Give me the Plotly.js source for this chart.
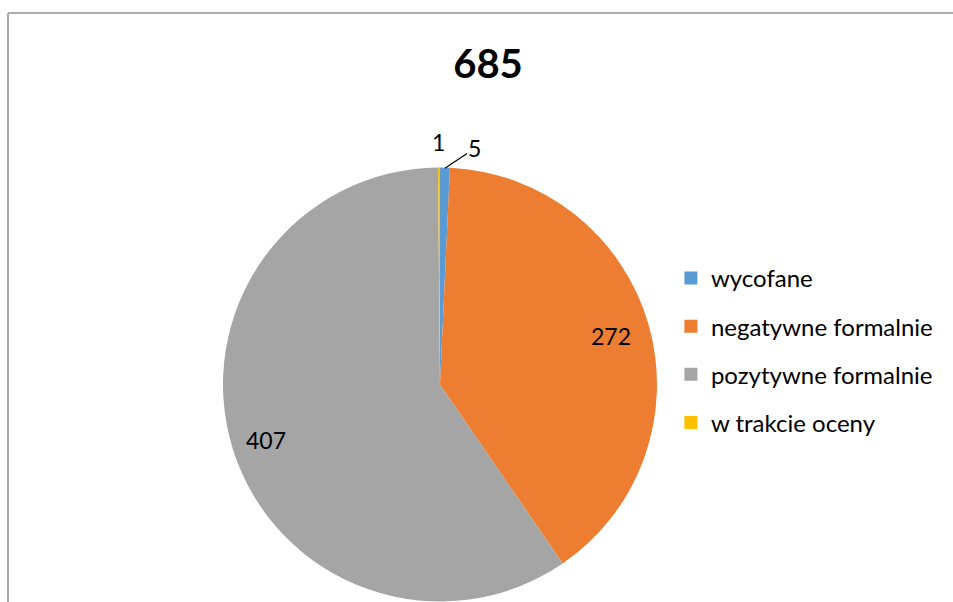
<!DOCTYPE html>
<html>
<head>
<meta charset="utf-8">
<script src="https://cdn.plot.ly/plotly-3.0.1.min.js"></script>
<style>
  html, body { margin: 0; padding: 0; background: #fff; }
  #chart { width: 953px; height: 602px; }
</style>
</head>
<body>
<div id="chart"></div>
<script>
const chartTitle = "685";
const categories = ["wycofane", "negatywne formalnie", "pozytywne formalnie", "w trakcie oceny"];
const values = [5, 272, 407, 1];
const colors = ["#5B9BD5", "#ED7D31", "#A5A5A5", "#FFC000"];

const FONT = "Lato, 'Liberation Sans', sans-serif";
const W = 953, H = 602;
const pieDomain = { x: [0.2340, 0.6894], y: [-0.002, 0.7226] };

// label placement style (radius as a fraction of the pie radius; "offset" labels get a leader line)
const labelStyle = [
  { mode: "leader", ax: 30, ay: -20 },
  { mode: "radial", k: 0.82 },
  { mode: "radial", k: 0.84 },
  { mode: "radial", k: 1.12 }
];

const pie = {
  type: "pie",
  labels: categories,
  values: values,
  sort: false,
  direction: "clockwise",
  rotation: 0,
  marker: { colors: colors, line: { width: 0 } },
  textinfo: "none",
  showlegend: false,
  hoverinfo: "label+value+percent",
  domain: pieDomain
};

// legend entries (one per category, so that the gaps between entries can be set)
const legendTraces = categories.map((c, i) => ({
  type: "scatter",
  x: [null], y: [null],
  mode: "markers",
  name: c,
  legendgroup: "g" + i,
  marker: { symbol: "square", size: 13, color: colors[i], line: { width: 0 } },
  hoverinfo: "skip",
  showlegend: true
}));

// data labels: positioned from the slice angles computed from the values
const total = values.reduce((a, b) => a + b, 0);
const dw = (pieDomain.x[1] - pieDomain.x[0]) * W;
const dh = (pieDomain.y[1] - pieDomain.y[0]) * H;
const rPx = Math.min(dw, dh) / 2;
const cxPx = (pieDomain.x[0] + pieDomain.x[1]) / 2 * W;
const cyPx = H - (pieDomain.y[0] + pieDomain.y[1]) / 2 * H;
let cum = 0;
const annotations = values.map((v, i) => {
  const mid = (cum + v / 2) / total * 2 * Math.PI; // clockwise from 12 o'clock
  cum += v;
  const s = labelStyle[i];
  const base = { text: String(v), showarrow: false, xref: "paper", yref: "paper",
                 font: { family: FONT, size: 23, color: "#000" }, xanchor: "center", yanchor: "middle" };
  if (s.mode === "radial") {
    const px = cxPx + s.k * rPx * Math.sin(mid);
    const py = cyPx - s.k * rPx * Math.cos(mid);
    return Object.assign(base, { x: px / W, y: 1 - py / H });
  }
  const ex = cxPx + rPx * Math.sin(mid);
  const ey = cyPx - rPx * Math.cos(mid);
  return Object.assign(base, {
    x: ex / W, y: 1 - ey / H, showarrow: true, arrowhead: 0, arrowwidth: 1.2,
    arrowcolor: "#000", ax: s.ax, ay: s.ay, standoff: 0
  });
});

const layout = {
  width: W, height: H,
  margin: { l: 0, r: 0, t: 0, b: 0 },
  paper_bgcolor: "#fff",
  plot_bgcolor: "rgba(0,0,0,0)",
  title: {
    text: chartTitle,
    font: { family: FONT, size: 40, color: "#000", weight: "bold" },
    x: 488 / W, xanchor: "center", xref: "paper",
    y: 1 - 64 / H, yanchor: "middle", yref: "paper"
  },
  xaxis: { visible: false, range: [0, 1] },
  yaxis: { visible: false, range: [0, 1] },
  legend: {
    x: 0.704, xanchor: "left",
    y: 0.575, yanchor: "top",
    font: { family: FONT, size: 24, color: "#000" },
    tracegroupgap: 14,
    traceorder: "grouped",
    bgcolor: "rgba(0,0,0,0)",
    itemclick: false
  },
  annotations: annotations,
  shapes: [
    { type: "line", xref: "paper", yref: "paper", x0: 8 / W, x1: 8 / W, y0: -0.05, y1: 1 - 13 / H,
      line: { color: "#ABABAB", width: 2 } },
    { type: "line", xref: "paper", yref: "paper", x0: 8 / W, x1: 1.05, y0: 1 - 13 / H, y1: 1 - 13 / H,
      line: { color: "#ABABAB", width: 2 } }
  ]
};

Plotly.newPlot("chart", [pie].concat(legendTraces), layout, { displayModeBar: false, staticPlot: true });
</script>
</body>
</html>
